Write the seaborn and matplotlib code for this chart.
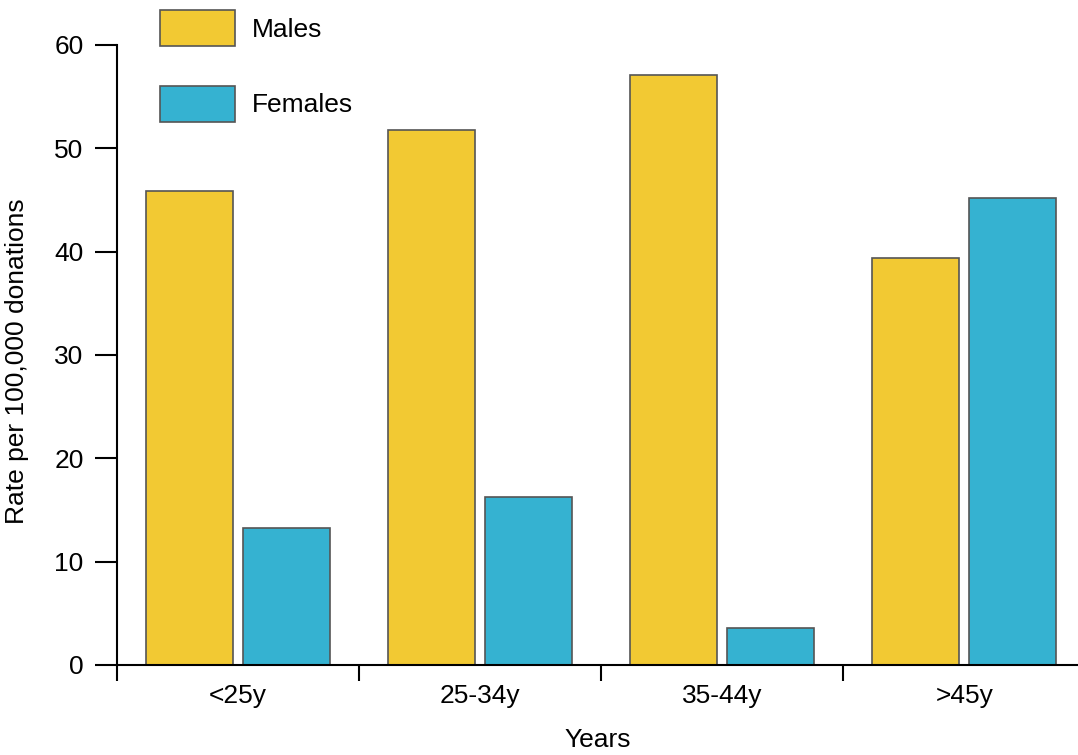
import matplotlib.pyplot as plt
import pandas as pd
import seaborn as sns

AGE_GROUPS = ['<25y', '25-34y', '35-44y', '>45y']
MALES = [45.9, 51.8, 57.1, 39.4]
FEMALES = [13.3, 16.3, 3.6, 45.2]
SEXES = ['Males', 'Females']
COLOURS = ['#f2c933', '#35b2d1']

W, H, DPI = 1078, 755, 100
FS = 19

df = pd.DataFrame({'age': AGE_GROUPS * 2,
                   'rate': MALES + FEMALES,
                   'sex': [SEXES[0]] * len(MALES) + [SEXES[1]] * len(FEMALES)})

sns.set_style('white')
plt.rcParams['font.family'] = ['Liberation Sans', 'DejaVu Sans']
plt.rcParams['text.color'] = 'black'
plt.rcParams['axes.labelcolor'] = 'black'
plt.rcParams['xtick.color'] = 'black'
plt.rcParams['ytick.color'] = 'black'

fig = plt.figure(figsize=(W / DPI, H / DPI), dpi=DPI)
ax = fig.add_axes([117 / W, 1 - 665 / H, 1 - 117 / W, (665 - 45) / H])

sns.barplot(data=df, x='age', y='rate', hue='sex', palette=COLOURS,
            saturation=1, width=0.8, gap=0.1, edgecolor='#555555',
            linewidth=1.2, ax=ax)

ax.set_ylim(0, 60)
ax.set_xlim(-0.5, 3.47)
ax.set_yticks(range(0, 61, 10))
sns.despine(ax=ax)
for s in ['left', 'bottom']:
    ax.spines[s].set_color('black')
    ax.spines[s].set_linewidth(1.5)

ax.tick_params(axis='y', which='major', left=True, length=16, width=1.5,
               pad=8, labelsize=FS)
ax.tick_params(axis='x', which='major', length=0, pad=14, labelsize=FS)
ax.set_xticks([-0.5, 0.5, 1.5, 2.5], minor=True)
ax.tick_params(axis='x', which='minor', bottom=True, length=11.5, width=1.5,
               direction='out')

ax.set_ylabel('Rate per 100,000 donations', fontsize=FS)
ax.yaxis.set_label_coords(-0.092, 0.49)
ax.set_xlabel('Years', fontsize=FS)
ax.xaxis.set_label_coords(0.5, -0.102)

# legend sits above the plot area, top left
ax.legend(title=None, frameon=False, fontsize=FS, loc='upper left',
          bbox_to_anchor=(160 / W, 1 - 10 / H), bbox_transform=fig.transFigure,
          borderpad=0, borderaxespad=0, handlelength=2.84, handleheight=1.73,
          labelspacing=1.5, handletextpad=0.65)

fig.savefig('out.png', dpi=DPI)
